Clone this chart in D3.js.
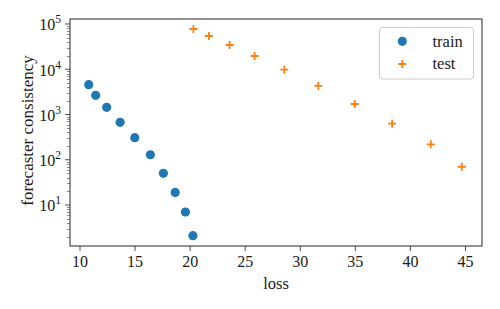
<!DOCTYPE html>
<html>
<head>
<meta charset="utf-8">
<script src="https://cdn.jsdelivr.net/npm/d3@7"></script>
<style>
  body { margin: 0; background: #fff; }
</style>
</head>
<body>
<div id="chart"></div>
<script>
// train series
var trainLoss = [10.79, 11.42, 12.42, 13.64, 14.97, 16.39, 17.57, 18.64, 19.57, 20.25];
var trainCons = [4560, 2655, 1443, 672, 307, 129, 50, 19, 7.0, 2.1];
// test series
var testLoss = [20.3, 21.7, 23.58, 25.85, 28.55, 31.64, 34.94, 38.34, 41.85, 44.67];
var testCons = [77500, 54300, 34300, 19600, 9770, 4270, 1706, 627, 219, 70];

var xTicks = [10, 15, 20, 25, 30, 35, 40, 45];
var yTicks = [1, 2, 3, 4, 5];   // exponents
var seriesNames = ["train", "test"];

var width = 500, height = 309;
var margin = {top: 19, right: 18, bottom: 63, left: 70};
var serif = "'Liberation Serif', 'DejaVu Serif', serif";

var svg = d3.select("#chart").append("svg")
  .attr("width", width)
  .attr("height", height)
  .style("font-family", serif);

var x = d3.scaleLinear().domain([9.09, 46.5]).range([margin.left, width - margin.right]);
var y = d3.scaleLog().domain([1.242, 128800]).range([height - margin.bottom, margin.top]);

var spine = "#3a3a3a";
var ink = "#1a1a1a";

// minor ticks on log axis
var minor = [];
for (var e = 0; e <= 5; e++) {
  for (var m = 2; m <= 9; m++) {
    var v = m * Math.pow(10, e);
    if (v >= y.domain()[0] && v <= y.domain()[1]) minor.push(v);
  }
}
svg.append("g").selectAll("line").data(minor).enter().append("line")
  .attr("x1", margin.left - 3).attr("x2", margin.left)
  .attr("y1", function(d) { return Math.round(y(d)) + 0.5; })
  .attr("y2", function(d) { return Math.round(y(d)) + 0.5; })
  .attr("stroke", spine).attr("stroke-width", 0.6);

// major y ticks
var yg = svg.append("g");
yg.selectAll("line").data(yTicks).enter().append("line")
  .attr("x1", margin.left - 5).attr("x2", margin.left)
  .attr("y1", function(d) { return y(Math.pow(10, d)); })
  .attr("y2", function(d) { return y(Math.pow(10, d)); })
  .attr("stroke", spine).attr("stroke-width", 0.9);
var ylab = yg.selectAll("text").data(yTicks).enter().append("text")
  .attr("x", margin.left - 9)
  .attr("y", function(d) { return y(Math.pow(10, d)) + 6.3; })
  .attr("text-anchor", "end")
  .attr("fill", ink)
  .style("font-size", "16px");
ylab.append("tspan").text("10");
ylab.append("tspan").attr("dy", -7).style("font-size", "11.5px").text(function(d) { return d; });

// x ticks
var xg = svg.append("g");
xg.selectAll("line").data(xTicks).enter().append("line")
  .attr("x1", function(d) { return x(d); }).attr("x2", function(d) { return x(d); })
  .attr("y1", height - margin.bottom).attr("y2", height - margin.bottom + 5)
  .attr("stroke", spine).attr("stroke-width", 0.9);
xg.selectAll("text").data(xTicks).enter().append("text")
  .attr("x", function(d) { return x(d); })
  .attr("y", height - margin.bottom + 21.3)
  .attr("text-anchor", "middle")
  .attr("fill", ink)
  .style("font-size", "16px")
  .text(function(d) { return d; });

// frame
svg.append("rect")
  .attr("x", margin.left).attr("y", margin.top)
  .attr("width", width - margin.left - margin.right)
  .attr("height", height - margin.top - margin.bottom)
  .attr("fill", "none").attr("stroke", spine).attr("stroke-width", 1.1);

// axis labels
svg.append("text")
  .attr("x", (margin.left + width - margin.right) / 2)
  .attr("y", 289.3)
  .attr("text-anchor", "middle")
  .attr("fill", ink)
  .style("font-size", "16.5px")
  .text("loss");
svg.append("text")
  .attr("transform", "translate(32.5," + ((margin.top + height - margin.bottom) / 2 - 2) + ") rotate(-90)")
  .attr("text-anchor", "middle")
  .attr("fill", ink)
  .style("font-size", "17px")
  .text("forecaster consistency");

// points
var train = trainLoss.map(function(d, i) { return {x: d, y: trainCons[i]}; });
var test = testLoss.map(function(d, i) { return {x: d, y: testCons[i]}; });

svg.append("g").selectAll("circle").data(train).enter().append("circle")
  .attr("cx", function(d) { return x(d.x); })
  .attr("cy", function(d) { return y(d.y); })
  .attr("r", 4.6)
  .attr("fill", "#1f77b4");

function plusPath(s) {
  return "M" + (-s) + ",0H" + s + "M0," + (-s) + "V" + s;
}
svg.append("g").selectAll("path").data(test).enter().append("path")
  .attr("transform", function(d) { return "translate(" + x(d.x) + "," + y(d.y) + ")"; })
  .attr("d", plusPath(4))
  .attr("stroke", "#ff7f0e")
  .attr("stroke-width", 1.8)
  .attr("fill", "none");

// legend
var lg = svg.append("g");
lg.append("rect")
  .attr("x", 379.5).attr("y", 27.5).attr("width", 94).attr("height", 51.5)
  .attr("rx", 3).attr("fill", "#fff").attr("fill-opacity", 0.8)
  .attr("stroke", "#ccc").attr("stroke-width", 1);
lg.append("circle").attr("cx", 402.3).attr("cy", 41.3).attr("r", 4.6).attr("fill", "#1f77b4");
lg.append("path").attr("transform", "translate(402.3,64)").attr("d", plusPath(4))
  .attr("stroke", "#ff7f0e").attr("stroke-width", 1.8).attr("fill", "none");
lg.selectAll("text.leg").data(seriesNames).enter().append("text")
  .attr("class", "leg")
  .attr("x", 432.5)
  .attr("y", function(d, i) { return 46.6 + i * 22.7; })
  .attr("fill", ink)
  .style("font-size", "16.5px")
  .text(function(d) { return d; });
</script>
</body>
</html>
